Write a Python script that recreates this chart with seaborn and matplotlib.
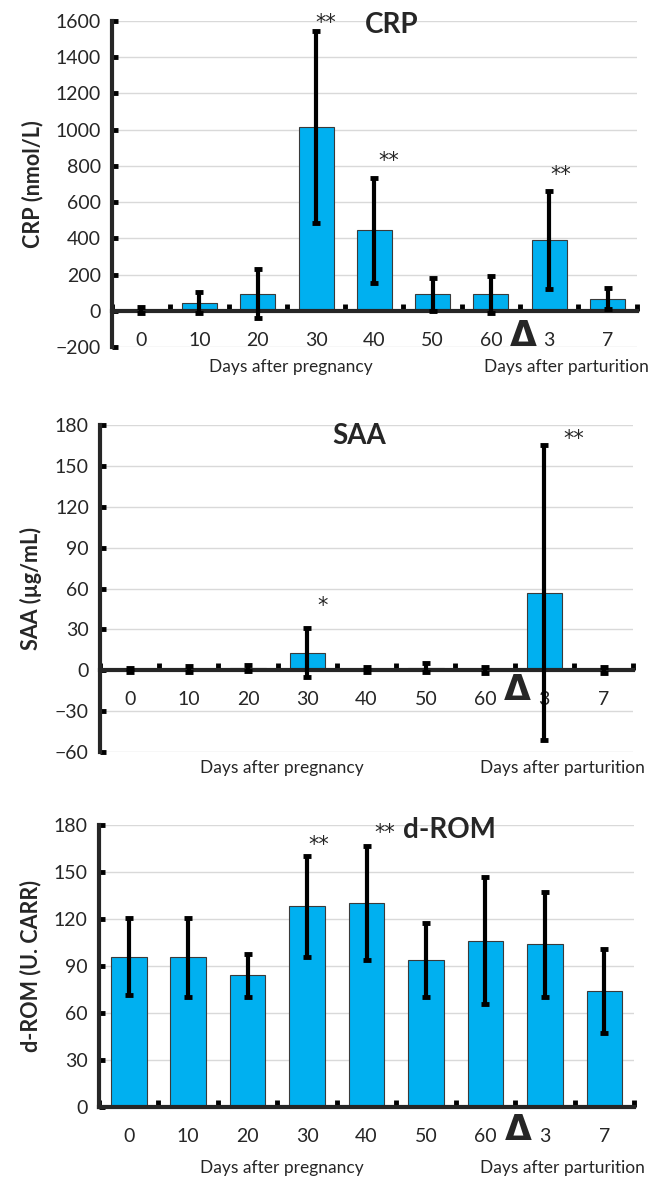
import numpy as np
import pandas as pd
import matplotlib
matplotlib.use('Agg')
import matplotlib.pyplot as plt
import matplotlib.transforms as mtrans
import seaborn as sns

sns.set_style("white")
plt.rcParams['font.family'] = ['Lato', 'DejaVu Sans']

# ---- data ----
days = ['0', '10', '20', '30', '40', '50', '60', '3', '7']

crp_mean = [5, 45, 95, 1013, 445, 90, 90, 390, 66]
crp_err = [15, 60, 135, 530, 290, 92, 100, 272, 58]

saa_mean = [0.5, 1.0, 1.5, 13, 0.5, 2.0, 0.3, 57, 0.3]
saa_err = [1.5, 2.0, 2.0, 18, 2.0, 3.0, 2.0, 108, 2.0]

drom_mean = [96, 95.5, 84, 128, 130, 94, 106, 104, 74]
drom_err = [24.5, 25, 13.5, 32, 36.5, 23.5, 40.5, 33.5, 27]

BLUE = '#00b0f0'


def stars(ax, x, y, s):
    ax.text(x, y, s, ha='center', va='center', fontsize=15, family='DejaVu Sans')


def draw_panel(ax, means, errs, ylim, yticks, ylabel, lab_y, delta_y, days_y):
    df = pd.DataFrame({'day': days, 'val': means})
    sns.barplot(data=df, x='day', y='val', order=days, color=BLUE, width=0.6,
                edgecolor='#3a3a3a', linewidth=0.8, errorbar=None, ax=ax,
                saturation=1)
    ax.errorbar(np.arange(len(days)), means, yerr=errs, fmt='none', ecolor='black',
                elinewidth=3, capsize=3, capthick=3.5, zorder=4)
    ax.set_xlim(-0.5, 8.5)
    ax.set_ylim(*ylim)
    ax.set_yticks(yticks)
    ax.set_yticklabels([f'{t:d}'.replace('-', '\u2212') for t in yticks], fontsize=14)
    ax.set_axisbelow(True)
    ax.yaxis.grid(True, color='#d9d9d9', lw=1)
    ax.set_xlabel('')
    ax.set_ylabel(ylabel, fontsize=15.5, fontweight='bold', labelpad=9)
    for s in ['top', 'right']:
        ax.spines[s].set_visible(False)
    ax.spines['left'].set_linewidth(3)
    ax.spines['bottom'].set_linewidth(3)
    ax.spines['bottom'].set_position(('data', 0))
    ax.spines['bottom'].set_zorder(3)
    ax.set_xticks(np.arange(-0.5, 9, 1))
    ax.set_xticklabels([])
    ax.tick_params(axis='x', bottom=True, direction='in', length=5, width=3.5,
                   color='black')
    ax.tick_params(axis='y', left=True, direction='in', length=4, width=3.5,
                   color='black', pad=8)
    trans = mtrans.blended_transform_factory(ax.transData, ax.transAxes)
    for i, d in enumerate(days):
        ax.text(i, lab_y, d, transform=trans, ha='center', va='center',
                fontsize=14, clip_on=False)
    ax.text(6.55, delta_y, '\u0394', transform=trans, ha='center', va='center',
            fontsize=25, fontweight='bold', family='DejaVu Sans', clip_on=False)
    ax.text(2.57, days_y, 'Days after pregnancy', transform=trans, ha='center',
            va='center', fontsize=12.5, clip_on=False)
    ax.text(7.3, days_y, 'Days after parturition', transform=trans, ha='center',
            va='center', fontsize=12.5, clip_on=False)


fig = plt.figure(figsize=(6.51, 11.77), dpi=100)
ax1 = fig.add_axes([0.172, 0.7052, 0.806, 0.277])
ax2 = fig.add_axes([0.1536, 0.3611, 0.819, 0.2778])
ax3 = fig.add_axes([0.152, 0.0595, 0.822, 0.2396])

draw_panel(ax1, crp_mean, crp_err, (-200, 1600), list(range(-200, 1601, 200)),
           'CRP (nmol/L)', 0.021, 0.035, -0.061)
ax1.text(4.3, 1576, 'CRP', ha='center', va='center', fontsize=20, fontweight='bold')
stars(ax1, 3.17, 1590, '**')
stars(ax1, 4.25, 825, '**')
stars(ax1, 7.2, 752, '**')

draw_panel(ax2, saa_mean, saa_err, (-60, 180), list(range(-60, 181, 30)),
           'SAA (\u00b5g/mL)', 0.159, 0.19, -0.049)
ax2.text(3.88, 172, 'SAA', ha='center', va='center', fontsize=20, fontweight='bold')
stars(ax2, 3.26, 47, '*')
stars(ax2, 7.5, 170, '**')

draw_panel(ax3, drom_mean, drom_err, (0, 180), list(range(0, 181, 30)),
           'd-ROM (U. CARR)', -0.106, -0.082, -0.216)
stars(ax3, 3.2, 167, '**')
stars(ax3, 4.3, 175, '**')
ax3.text(4.62, 177, 'd-ROM', ha='left', va='center', fontsize=20, fontweight='bold')

fig.savefig('out.png', dpi=100)
